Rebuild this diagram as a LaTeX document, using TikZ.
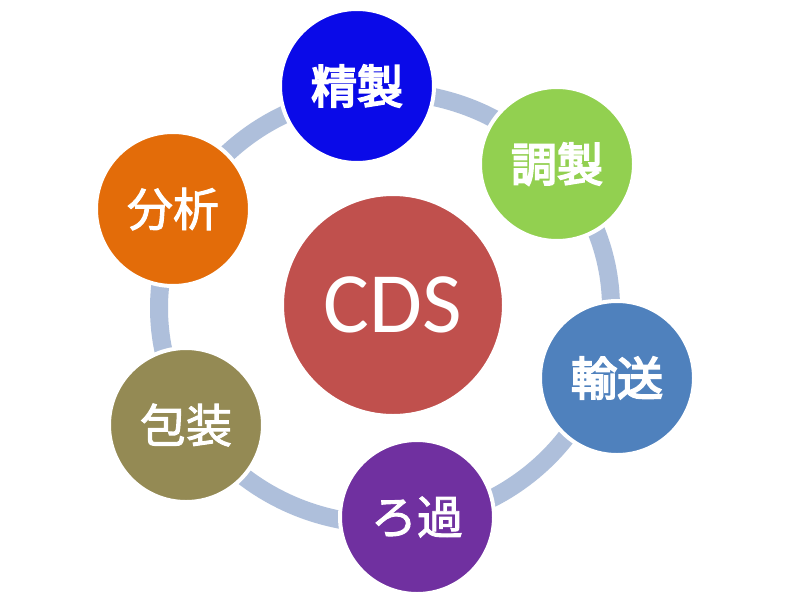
\documentclass[tikz,border=0pt]{standalone}
\usepackage{fontspec}
\setmainfont{Carlito}
\newfontfamily\cjkbold{Noto Sans CJK JP}[FakeBold=4]
\newfontfamily\cjkmed{Noto Sans CJK JP}[FakeBold=2]
\definecolor{ringc}{HTML}{AEBFDB}
\definecolor{cblue}{HTML}{0A0AE8}
\definecolor{cgreen}{HTML}{92D050}
\definecolor{csteel}{HTML}{4F81BD}
\definecolor{cpurple}{HTML}{7030A0}
\definecolor{colive}{HTML}{948A54}
\definecolor{corange}{HTML}{E36C09}
\definecolor{cred}{HTML}{C0504D}
\tikzset{
  x=1pt, y=-1pt,
  ball/.style={circle, draw=white, line width=4pt, minimum size=154pt, inner sep=0pt, text=white},
  jp/.style={font=\cjkmed\fontsize{46}{46}\selectfont},
  jpb/.style={font=\cjkbold\fontsize{46}{46}\selectfont},
}
\begin{document}
\begin{tikzpicture}
\useasboundingbox (0,0) rectangle (800,600);
\fill[white] (0,0) rectangle (800,600);
\coordinate (ringc) at (385,308);
\draw[ringc, line width=18pt] (ringc) ellipse [x radius=226, y radius=216];
\node[ball, fill=cred, minimum size=222pt, font=\fontsize{86}{86}\selectfont] (cds) at (393,305) {CDS};
\node[ball, fill=cblue, jpb] (seisei) at (357,86) {精製};
\node[ball, fill=cgreen, jpb] (chosei) at (557,164) {調製};
\node[ball, fill=csteel, jpb] (yuso) at (617,378) {輸送};
\node[ball, fill=cpurple, jp] (roka) at (417,517) {ろ過};
\node[ball, fill=colive, jp] (hoso) at (186,425) {包装};
\node[ball, fill=corange, jp] (bunseki) at (173,209) {分析};
\end{tikzpicture}
\end{document}
